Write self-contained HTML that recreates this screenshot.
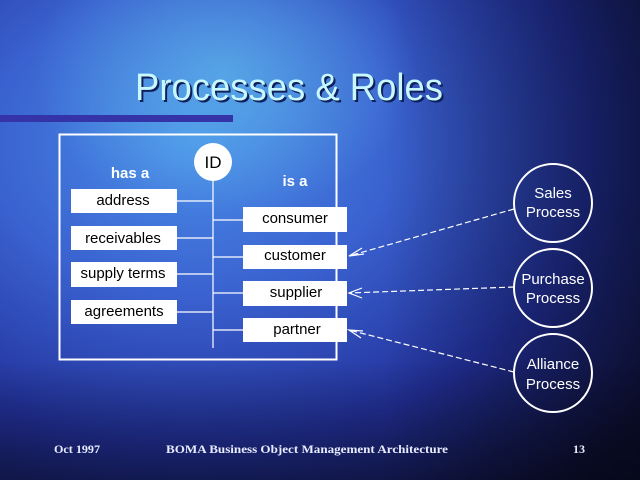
<!DOCTYPE html>
<html><head><style>
html,body{margin:0;padding:0;width:640px;height:480px;overflow:hidden}
</style></head><body>
<svg width="640" height="480" viewBox="0 0 640 480" xmlns="http://www.w3.org/2000/svg" font-family="Liberation Sans, sans-serif">
<defs>
<radialGradient id="bg" cx="0.3" cy="0.3" r="0.9">
<stop offset="0" stop-color="#4a8ee8"/>
<stop offset="0.35" stop-color="#3a62d0"/>
<stop offset="0.7" stop-color="#22309a"/>
<stop offset="1" stop-color="#141850"/>
</radialGradient>
<radialGradient id="g2" cx="0.35" cy="0.15" r="0.3">
<stop offset="0" stop-color="#6ad0f0" stop-opacity="0.5"/>
<stop offset="1" stop-color="#6ad0f0" stop-opacity="0"/>
</radialGradient>
<linearGradient id="rt" x1="0" x2="1">
<stop offset="0.6" stop-color="#000" stop-opacity="0"/>
<stop offset="1" stop-color="#000" stop-opacity="0.45"/>
</linearGradient>
<linearGradient id="bt" x1="0" y1="0" x2="0" y2="1">
<stop offset="0.75" stop-color="#000" stop-opacity="0"/>
<stop offset="1" stop-color="#000" stop-opacity="0.4"/>
</linearGradient>
</defs>
<rect width="640" height="480" fill="url(#bg)"/>
<rect width="640" height="480" fill="url(#g2)"/>
<rect width="640" height="480" fill="url(#rt)"/>
<rect width="640" height="480" fill="url(#bt)"/>
<rect x="0" y="115" width="233" height="7" fill="#3434a8"/>
<text x="137" y="102" font-size="38" fill="#10205a" textLength="308" lengthAdjust="spacingAndGlyphs">Processes &amp; Roles</text>
<text x="135" y="100" font-size="38" fill="#c8f8ff" textLength="308" lengthAdjust="spacingAndGlyphs">Processes &amp; Roles</text>

<rect x="59.5" y="134.5" width="277" height="225" fill="none" stroke="#fff" stroke-width="2"/>
<line x1="213" y1="175" x2="213" y2="348" stroke="#fff" stroke-width="1.2"/>
<g stroke="#fff" stroke-width="1.2">
<line x1="177" y1="201" x2="213" y2="201"/>
<line x1="177" y1="238" x2="213" y2="238"/>
<line x1="177" y1="274" x2="213" y2="274"/>
<line x1="177" y1="312" x2="213" y2="312"/>
<line x1="213" y1="220" x2="243" y2="220"/>
<line x1="213" y1="257" x2="243" y2="257"/>
<line x1="213" y1="293" x2="243" y2="293"/>
<line x1="213" y1="330" x2="243" y2="330"/>
</g>
<circle cx="213" cy="162" r="19" fill="#fff"/>
<text x="213" y="168" font-size="17" text-anchor="middle" fill="#000">ID</text>
<text x="130" y="178" font-size="15" font-weight="bold" text-anchor="middle" fill="#fff">has a</text>
<text x="295" y="186" font-size="15" font-weight="bold" text-anchor="middle" fill="#fff">is a</text>
<g fill="#fff">
<rect x="71" y="189" width="106" height="24"/>
<rect x="71" y="226" width="106" height="24"/>
<rect x="71" y="262" width="106" height="25"/>
<rect x="71" y="300" width="106" height="24"/>
<rect x="243" y="207" width="104" height="25"/>
<rect x="243" y="245" width="104" height="24"/>
<rect x="243" y="281" width="104" height="25"/>
<rect x="243" y="318" width="104" height="24"/>
</g>
<g font-size="15" fill="#000" text-anchor="middle">
<text x="123" y="205">address</text>
<text x="123" y="243">receivables</text>
<text x="123" y="278">supply terms</text>
<text x="124" y="316">agreements</text>
<text x="295" y="223">consumer</text>
<text x="295" y="260">customer</text>
<text x="296" y="297">supplier</text>
<text x="297" y="334">partner</text>
</g>

<g fill="none" stroke="#fff" stroke-width="2">
<circle cx="553" cy="203" r="39"/>
<circle cx="553" cy="288" r="39"/>
<circle cx="553" cy="373" r="39"/>
</g>
<g fill="#fff" font-size="15" text-anchor="middle">
<text x="553" y="198">Sales</text><text x="553" y="217">Process</text>
<text x="553" y="284">Purchase</text><text x="553" y="303">Process</text>
<text x="553" y="369">Alliance</text><text x="553" y="389">Process</text>
</g>
<g stroke="#fff" stroke-width="1.2" fill="none">
<line x1="514" y1="209" x2="349" y2="256" stroke-dasharray="6,3"/>
<line x1="514" y1="287" x2="349" y2="293" stroke-dasharray="6,3"/>
<line x1="514" y1="372" x2="349" y2="330" stroke-dasharray="6,3"/>
<polyline points="362,248 349,256 364,254"/>
<polyline points="362,288 349,293 362,298"/>
<polyline points="363,331 349,330 361,338"/>
</g>
<g font-family="Liberation Serif, serif" font-weight="bold" font-size="12" fill="#e8ecff">
<text x="54" y="453" textLength="46" lengthAdjust="spacingAndGlyphs">Oct 1997</text>
<text x="166" y="453" textLength="282" lengthAdjust="spacingAndGlyphs">BOMA  Business Object Management Architecture</text>
<text x="573" y="453">13</text>
</g>
</svg>
</body></html>
